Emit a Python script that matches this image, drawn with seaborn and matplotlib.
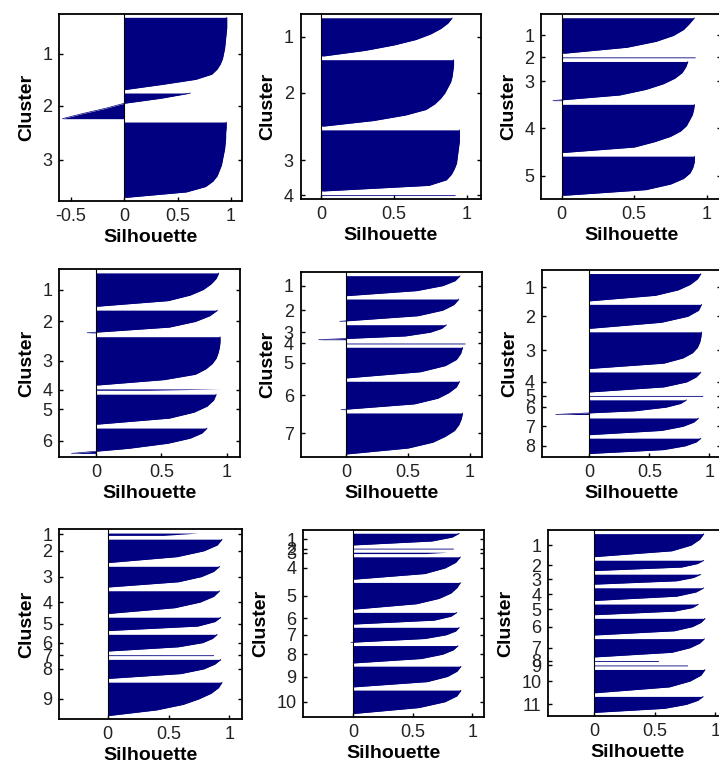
import numpy as np
import pandas as pd
import matplotlib
matplotlib.use("Agg")
import matplotlib.pyplot as plt
import seaborn as sns

# Cluster sizes (rows) and sorted silhouette values per cluster
p1_sizes = [217, 77, 226]
p1_profiles = [
    [0.96, 0.96, 0.96, 0.955, 0.95, 0.945, 0.94, 0.93, 0.92, 0.90, 0.87, 0.82, 0.67, 0.35, 0.0],
    [0.62, 0.35, 0.0, -0.18, -0.39, -0.58],
    [0.955, 0.955, 0.95, 0.95, 0.945, 0.94, 0.93, 0.92, 0.91, 0.89, 0.87, 0.83, 0.76, 0.58, 0.02],
]

p2_sizes = [115, 200, 184, 2.5]
p2_profiles = [
    [0.90, 0.87, 0.82, 0.75, 0.65, 0.50, 0.30, 0.02],
    [0.91, 0.91, 0.905, 0.90, 0.89, 0.87, 0.85, 0.82, 0.78, 0.72, 0.58, 0.36, 0.02],
    [0.95, 0.95, 0.95, 0.945, 0.94, 0.935, 0.93, 0.915, 0.895, 0.86, 0.74, 0.02],
    [0.92],
]

p3_sizes = [107, 2.5, 118, 145, 118]
p3_profiles = [
    [0.915, 0.88, 0.84, 0.77, 0.65, 0.45, 0.02],
    [0.92],
    [0.87, 0.855, 0.83, 0.78, 0.70, 0.58, 0.40, -0.06],
    [0.915, 0.91, 0.90, 0.88, 0.86, 0.82, 0.75, 0.64, 0.50, 0.02],
    [0.915, 0.915, 0.905, 0.885, 0.84, 0.75, 0.58, 0.02],
]

p4_sizes = [100, 68, 145, 4, 90, 76]
p4_profiles = [
    [0.94, 0.92, 0.88, 0.82, 0.72, 0.55, 0.01],
    [0.93, 0.87, 0.76, 0.56, -0.07],
    [0.95, 0.95, 0.945, 0.935, 0.92, 0.89, 0.84, 0.76, 0.52, 0.01],
    [0.96, 0.40],
    [0.92, 0.90, 0.85, 0.75, 0.56, 0.01],
    [0.85, 0.81, 0.72, 0.55, 0.25, -0.19],
]

p5_sizes = [60, 67, 45, 2.5, 92, 85, 123]
p5_profiles = [
    [0.92, 0.88, 0.78, 0.57, 0.01],
    [0.91, 0.87, 0.78, 0.58, -0.05],
    [0.81, 0.77, 0.68, 0.48, -0.22],
    [0.96],
    [0.94, 0.925, 0.89, 0.80, 0.60, 0.01],
    [0.915, 0.89, 0.83, 0.74, 0.55, -0.04],
    [0.94, 0.93, 0.91, 0.875, 0.80, 0.70, 0.50, 0.01],
]

p6_sizes = [82, 72, 110, 60, 2.5, 44, 50, 46]
p6_profiles = [
    [0.93, 0.90, 0.84, 0.74, 0.55, 0.01],
    [0.935, 0.91, 0.82, 0.60, 0.01],
    [0.935, 0.93, 0.92, 0.90, 0.86, 0.78, 0.62, 0.01],
    [0.93, 0.89, 0.81, 0.62, 0.01],
    [0.945],
    [0.81, 0.76, 0.64, 0.38, -0.28],
    [0.91, 0.87, 0.78, 0.60, 0.01],
    [0.93, 0.89, 0.80, 0.62, 0.01],
]

p7_sizes = [7, 70, 62, 68, 40, 50, 2.5, 57, 100]
p7_profiles = [
    [0.74, 0.46],
    [0.94, 0.90, 0.79, 0.57, 0.01],
    [0.92, 0.87, 0.77, 0.58, 0.01],
    [0.92, 0.87, 0.76, 0.55, 0.01],
    [0.93, 0.88, 0.74, 0.01],
    [0.90, 0.86, 0.78, 0.58, 0.01],
    [0.87],
    [0.93, 0.88, 0.79, 0.60, 0.01],
    [0.94, 0.91, 0.85, 0.75, 0.62, 0.40, 0.01],
]

p8_sizes = [35, 2.5, 4, 67, 80, 35, 45, 52, 62, 70]
p8_profiles = [
    [0.89, 0.83, 0.66, 0.01],
    [0.84],
    [0.79, 0.61],
    [0.90, 0.86, 0.77, 0.60, 0.01],
    [0.90, 0.87, 0.82, 0.72, 0.53, 0.01],
    [0.87, 0.82, 0.68, 0.01],
    [0.89, 0.86, 0.78, 0.60, -0.02],
    [0.88, 0.84, 0.75, 0.57, 0.01],
    [0.905, 0.87, 0.79, 0.62, 0.01],
    [0.905, 0.87, 0.77, 0.55, 0.01],
]

p9_sizes = [69, 31, 30, 38, 32, 50, 55, 2.5, 2.5, 70, 48]
p9_profiles = [
    [0.905, 0.87, 0.80, 0.64, 0.01],
    [0.905, 0.85, 0.72, 0.01],
    [0.88, 0.82, 0.68, 0.01],
    [0.905, 0.84, 0.68, 0.01],
    [0.86, 0.81, 0.66, 0.01],
    [0.915, 0.88, 0.81, 0.66, 0.01],
    [0.91, 0.87, 0.79, 0.64, 0.01],
    [0.53],
    [0.77],
    [0.915, 0.88, 0.79, 0.62, 0.01],
    [0.90, 0.855, 0.76, 0.58, 0.01],
]

xtick_values = [-0.5, 0, 0.5, 1]
xtick_labels = ["-0.5", "0", "0.5", "1"]

# spacing between clusters (rows) and left x-limit of each panel
gaps = [10, 11.3, 11.2, 11.7, 10.1, 10.6, 11.3, 9.7, 10.9]
xmins = [-0.61, -0.14, -0.14, -0.285, -0.365, -0.395, -0.40, -0.42, -0.38]

# axes boxes in pixels: left, top, right, bottom
boxes = [
    (59.2, 14, 241.7, 200.7), (300.6, 14, 481.3, 199.3), (541.4, 14, 721.2, 199),
    (59.2, 269, 239.6, 457.3), (300.7, 272.3, 482.4, 457.3), (541.9, 270, 721.3, 457),
    (59.1, 529.3, 241.5, 719.3), (303.3, 530, 484.2, 716.7), (548.3, 530, 727.4, 716),
]

all_sizes = [p1_sizes, p2_sizes, p3_sizes, p4_sizes, p5_sizes, p6_sizes, p7_sizes, p8_sizes, p9_sizes]
all_profiles = [p1_profiles, p2_profiles, p3_profiles, p4_profiles, p5_profiles,
                p6_profiles, p7_profiles, p8_profiles, p9_profiles]

W, H = 719, 765
NAVY = "#000080"

sns.set_theme(style="white")
plt.rcParams["font.family"] = ["Liberation Sans", "DejaVu Sans"]
plt.rcParams["axes.unicode_minus"] = False

fig = plt.figure(figsize=(W / 100, H / 100), dpi=100)

for sizes, profiles, gap, xmin, (l, t, r, b) in zip(all_sizes, all_profiles, gaps, xmins, boxes):
    ax = fig.add_axes([l / W, 1 - b / H, (r - l) / W, (b - t) / H])

    rows = []
    centers = []
    y = gap
    for k, (n, prof) in enumerate(zip(sizes, profiles), start=1):
        vals = prof if len(prof) > 1 else prof * 2
        ys = np.linspace(y, y + n, len(vals))
        poly = ax.fill_betweenx(ys, 0, vals, color=NAVY, lw=0)
        poly.set_snap(False)
        if n > 10:
            rows += [(k, yy, v) for yy, v in zip(ys, vals)]
        centers.append(y + n / 2)
        y += n + gap

    # smooth right edge of the larger clusters
    df = pd.DataFrame(rows, columns=["cluster", "row", "silhouette"])
    sns.lineplot(data=df, x="silhouette", y="row", units="cluster", estimator=None,
                 orient="y", sort=False, color=NAVY, lw=0.5, ax=ax)

    ax.axvline(0, color="black", lw=0.8)
    ax.set_xlim(xmin, 1.1)
    ax.set_ylim(y, 0)

    xt = [(v, s) for v, s in zip(xtick_values, xtick_labels) if v >= xmin]
    ax.set_xticks([v for v, _ in xt], [s for _, s in xt])
    ax.set_yticks(centers, [str(k) for k in range(1, len(sizes) + 1)])
    ax.tick_params(direction="in", length=3, width=1, color="black",
                   bottom=True, left=True, top=False, right=True,
                   labelsize=13, labelcolor="#222222", pad=5)

    for sp in ax.spines.values():
        sp.set_visible(True)
        sp.set_color("black")
        sp.set_linewidth(1.3)

    ax.set_xlabel("Silhouette", fontsize=14, fontweight="bold", color="black", labelpad=3)
    ax.set_ylabel("Cluster", fontsize=14, fontweight="bold", color="black", labelpad=5)

fig.savefig("out.png", dpi=100, facecolor="white")
